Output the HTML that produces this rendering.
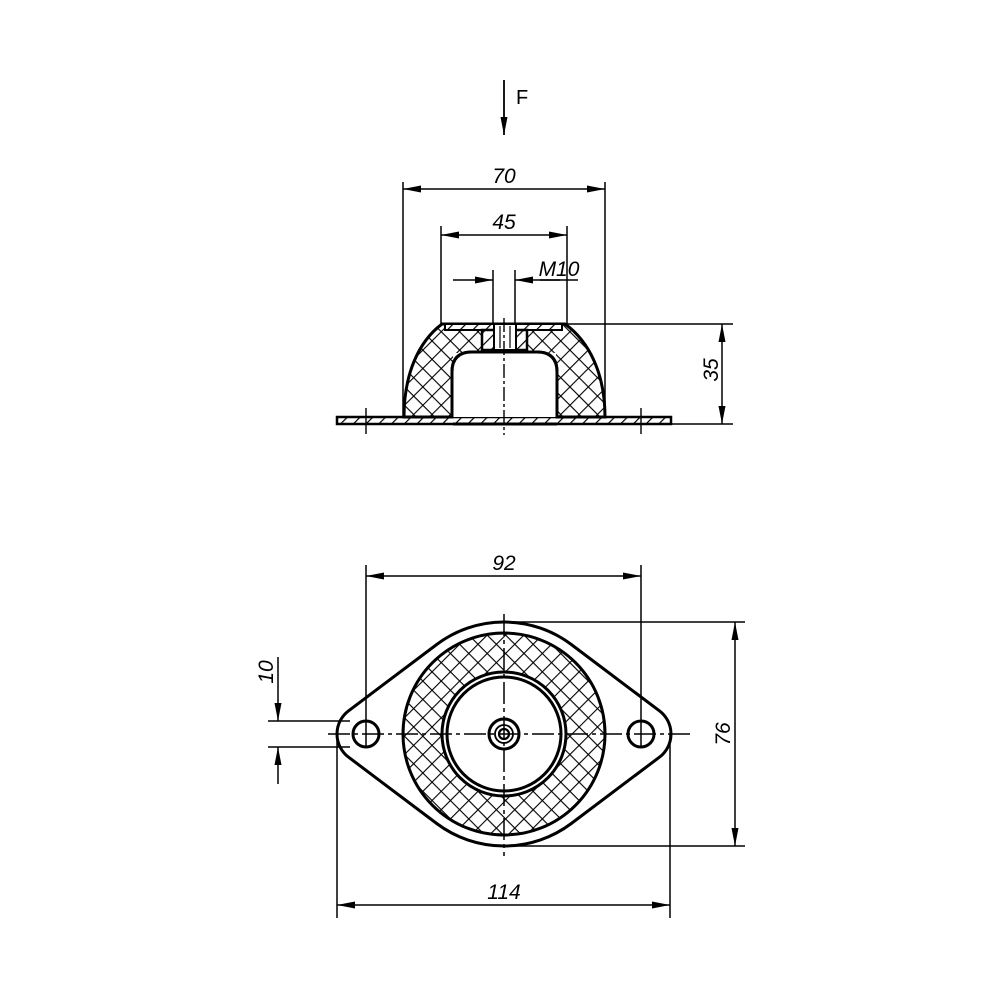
<!DOCTYPE html>
<html><head><meta charset="utf-8"><style>html,body{margin:0;background:#fff}svg{display:block}</style></head><body>
<svg width="1000" height="1000" viewBox="0 0 1000 1000" xmlns="http://www.w3.org/2000/svg" font-family="Liberation Sans, sans-serif">
<defs>
<pattern id="x" width="13" height="13" patternUnits="userSpaceOnUse" patternTransform="rotate(45)">
<rect width="13" height="13" fill="#fff"/>
<path d="M0 0H13M0 0V13" stroke="#000" stroke-width="2.2"/>
</pattern>
<pattern id="d" width="9" height="9" patternUnits="userSpaceOnUse" patternTransform="rotate(45)">
<rect width="9" height="9" fill="#fff"/>
<path d="M0 0V9" stroke="#000" stroke-width="2.4"/>
</pattern>
<marker id="a" markerWidth="18" markerHeight="10" refX="18" refY="5" orient="auto" markerUnits="userSpaceOnUse">
<path d="M0 1.5L18 5L0 8.5Z" fill="#000"/></marker>
</defs>
<g stroke="#000" fill="none">
<line x1="504" y1="80" x2="504" y2="135" stroke-width="1.8" marker-end="url(#a)"/>
<rect x="337" y="417" width="334" height="7" fill="url(#d)" stroke-width="2.5"/>
<path d="M404 417 C404 375 418 342 442 324 L565 324 C590 342 605 375 605 417 L557 417 L557 372 Q557 352 537 352 L472 352 Q452 352 452 372 L452 417 Z" fill="url(#x)" stroke-width="3"/>
<rect x="445" y="324" width="117" height="6" fill="url(#d)" stroke-width="2"/>
<rect x="482" y="330" width="45" height="20" fill="url(#d)" stroke-width="2.5"/>
<rect x="494" y="324" width="22" height="26" fill="#fff" stroke-width="2"/>
<line x1="500" y1="326" x2="500" y2="348" stroke-width="1.2"/><line x1="510" y1="326" x2="510" y2="348" stroke-width="1.2"/>
<rect x="453" y="353" width="103" height="64" fill="#fff" stroke="none"/>
<path d="M452 417 L452 372 Q452 352 472 352 L537 352 Q557 352 557 372 L557 417" stroke-width="3"/>
<line x1="453" y1="424" x2="557" y2="424" stroke-width="3"/>
<line x1="504" y1="318" x2="504" y2="435" stroke-width="1.4" stroke-dasharray="14 3 3 3"/>
<line x1="366" y1="408" x2="366" y2="434" stroke-width="1.4"/>
<line x1="641" y1="408" x2="641" y2="434" stroke-width="1.4"/>
<g stroke-width="1.5">
<line x1="403" y1="182" x2="403" y2="417"/><line x1="605" y1="182" x2="605" y2="417"/>
<line x1="441" y1="226" x2="441" y2="324"/><line x1="567" y1="226" x2="567" y2="324"/>
<line x1="493" y1="270" x2="493" y2="324"/><line x1="515" y1="270" x2="515" y2="324"/>
<line x1="567" y1="324" x2="733" y2="324"/><line x1="671" y1="424" x2="733" y2="424"/>
</g>
<g stroke-width="1.5" marker-end="url(#a)">
<line x1="504" y1="189" x2="403" y2="189"/><line x1="504" y1="189" x2="605" y2="189"/>
<line x1="504" y1="235" x2="441" y2="235"/><line x1="504" y1="235" x2="567" y2="235"/>
<line x1="722" y1="374" x2="722" y2="324"/><line x1="722" y1="374" x2="722" y2="424"/>
<line x1="453" y1="280" x2="493" y2="280"/><line x1="560" y1="280" x2="515" y2="280"/>
</g>
<line x1="540" y1="280" x2="578" y2="280" stroke-width="1.5"/>
<path d="M348.6 710.8 L436.7 644.5 A112 112 0 0 1 571.3 644.5 L659.4 710.8 A29 29 0 0 1 659.4 757.2 L571.3 823.5 A112 112 0 0 1 436.7 823.5 L348.6 757.2 A29 29 0 0 1 348.6 710.8 Z" stroke-width="3" fill="#fff"/>
<circle cx="504" cy="734" r="101" fill="url(#x)" stroke-width="3"/>
<circle cx="504" cy="734" r="62" fill="#fff" stroke-width="3"/>
<circle cx="504" cy="734" r="57" stroke-width="3"/>
<circle cx="504" cy="734" r="15" stroke-width="3"/>
<circle cx="504" cy="734" r="9" stroke-width="1.8"/>
<circle cx="504" cy="734" r="5" stroke-width="2.2"/>
<circle cx="366" cy="734" r="13" fill="#fff" stroke-width="3"/>
<circle cx="641" cy="734" r="13" fill="#fff" stroke-width="3"/>
<line x1="328" y1="734" x2="690" y2="734" stroke-width="1.5" stroke-dasharray="22 4 4 4"/>
<line x1="504" y1="614" x2="504" y2="856" stroke-width="1.5" stroke-dasharray="22 4 4 4"/>
<g stroke-width="1.5">
<line x1="366" y1="565" x2="366" y2="748"/><line x1="641" y1="565" x2="641" y2="748"/>
<line x1="337" y1="734" x2="337" y2="918"/><line x1="670" y1="734" x2="670" y2="918"/>
<line x1="504" y1="622" x2="745" y2="622"/><line x1="504" y1="846" x2="745" y2="846"/>
<line x1="268" y1="721" x2="350" y2="721"/><line x1="268" y1="747" x2="350" y2="747"/>
</g>
<g stroke-width="1.5" marker-end="url(#a)">
<line x1="504" y1="576" x2="366" y2="576"/><line x1="504" y1="576" x2="641" y2="576"/>
<line x1="504" y1="905" x2="337" y2="905"/><line x1="504" y1="905" x2="670" y2="905"/>
<line x1="735" y1="734" x2="735" y2="622"/><line x1="735" y1="734" x2="735" y2="846"/>
<line x1="278" y1="657" x2="278" y2="721"/><line x1="278" y1="784" x2="278" y2="747"/>
</g>
</g>
<g font-size="21" font-style="italic" fill="#000">
<text x="516" y="104" font-style="normal" font-size="20">F</text>
<text x="504" y="183" text-anchor="middle">70</text>
<text x="504" y="229" text-anchor="middle">45</text>
<text x="559" y="276" text-anchor="middle">M10</text>
<text x="504" y="570" text-anchor="middle">92</text>
<text x="504" y="899" text-anchor="middle">114</text>
<text transform="translate(718 370) rotate(-90)" text-anchor="middle">35</text>
<text transform="translate(730 734) rotate(-90)" text-anchor="middle">76</text>
<text transform="translate(273 672) rotate(-90)" text-anchor="middle">10</text>
</g>
</svg>
</body></html>
